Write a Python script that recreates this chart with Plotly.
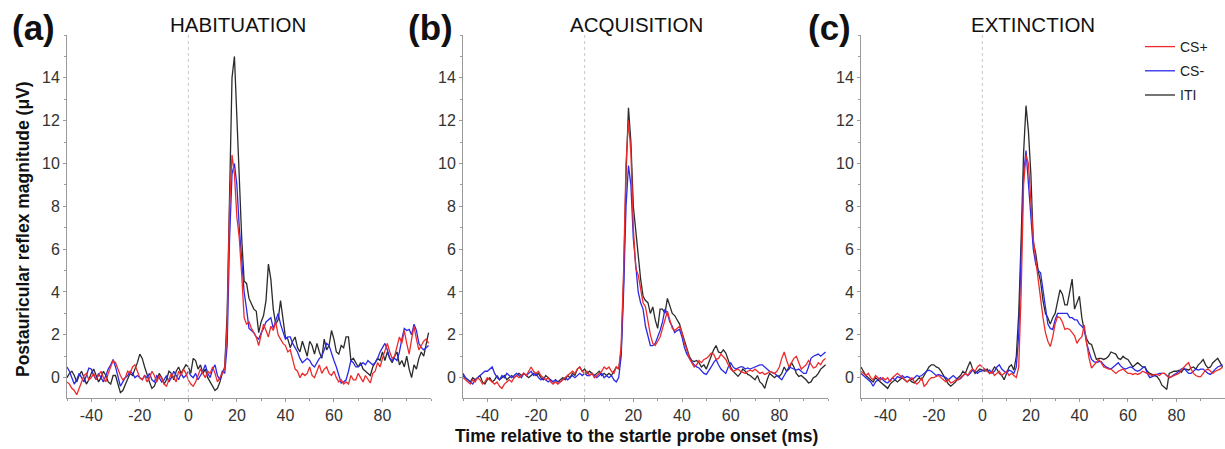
import numpy as np
import plotly.graph_objects as go

# ---------------- data ----------------
time_ms = list(range(-50, 100))  # 1-ms sampling, -50 .. 99 ms

panel_titles = ["HABITUATION", "ACQUISITION", "EXTINCTION"]
panel_letters = ["(a)", "(b)", "(c)"]
series_names = ["CS+", "CS-", "ITI"]

# (a) HABITUATION
hab_csplus = [
    -0.2, -0.3, -0.5, -0.6, -0.8, -0.5, -0.2, 0.1, 0.2, -0.1,
    0.0, 0.2, -0.1, 0.1, 0.3, 0.0, -0.2, 0.2, 0.5, 0.8,
    0.7, 0.4, 0.1, -0.1, 0.0, 0.3, 0.2, 0.5, 0.6, 0.3,
    0.0, -0.1, 0.1, -0.2, 0.0, 0.3, 0.1, -0.2, 0.1, 0.0,
    -0.3, -0.4, -0.1, 0.2, 0.0, -0.2, 0.3, 0.1, 0.4, 0.2,
    -0.1, -0.3, -0.4, -0.2, 0.1, 0.4, 0.2, 0.0, 0.3, 0.2,
    0.5, 0.2, -0.2, 0.0, 0.2, 0.4, 2.5, 8.0, 10.4, 9.5,
    7.5, 6.5, 4.8, 2.8, 2.5, 2.6, 2.3, 2.1, 1.9, 1.5,
    2.0, 2.5, 2.2, 1.9, 2.4, 2.2, 2.6, 2.0, 1.8, 1.6,
    1.5, 1.2, 1.3, 0.8, 0.4, 0.3, 0.0, 0.2, 0.1, 0.2,
    0.5, 0.1, 0.0, 0.3, 0.6, 0.2, 0.4, 0.5, 0.2, 0.1,
    0.3, 0.0, -0.2, -0.1, -0.3, -0.2, -0.3, 0.1, -0.1, -0.1,
    0.2, 0.0, -0.2, 0.1, -0.1, -0.25, 0.2, 0.3, 0.7, 0.5,
    0.9, 1.3, 1.6, 1.2, 0.9, 1.0, 1.5, 1.9, 1.6, 2.2,
    1.6, 1.1, 1.8, 2.4, 1.8, 1.3, 1.5, 1.7, 1.8, 1.6,
]
hab_csminus = [
    0.5, 0.3, 0.0, -0.3, -0.1, 0.2, 0.0, -0.2, 0.1, 0.45,
    0.4, 0.1, -0.1, 0.2, 0.0, -0.2, 0.1, 0.4, 0.6, 0.85,
    0.5, 0.1, -0.4, -0.2, 0.0, 0.1, 0.3, 0.2, 0.0, 0.1,
    0.0, -0.1, 0.1, 0.0, 0.2, -0.1, -0.2, 0.1, 0.0, -0.2,
    -0.1, 0.1, -0.2, 0.0, 0.3, 0.1, -0.1, 0.2, 0.0, 0.1,
    0.3, 0.1, 0.0, 0.2, -0.1, 0.1, 0.3, 0.6, 0.2, 0.0,
    0.4, 0.6, 0.1, -0.1, 0.3, 0.2, 1.5, 6.5, 9.5, 10.0,
    9.0, 7.0, 5.3, 4.0, 3.2, 2.3, 2.2, 2.1, 1.9, 1.8,
    2.1, 2.3, 2.6, 2.7, 2.8, 2.3, 2.6, 3.0, 2.5, 2.2,
    1.8, 1.9, 1.9, 1.6, 1.4, 1.2, 0.9, 0.7, 0.8, 0.9,
    0.8, 0.6, 0.5, 0.7, 0.9, 1.0, 1.3, 1.6, 1.5, 1.1,
    0.8, 0.5, 0.1, -0.25, -0.2, -0.1, 0.3, 0.8, 0.7, 0.5,
    0.5, 0.6, 0.7, 0.6, 0.8, 0.7, 0.6, 0.7, 0.9, 1.2,
    1.4, 1.6, 1.3, 0.9, 0.8, 0.9, 0.8, 1.2, 1.8, 2.3,
    2.2, 2.25, 2.0, 2.5, 2.2, 1.6, 1.4, 1.3, 1.4, 1.5,
]
hab_iti = [
    0.0, 0.2, 0.3, 0.1, -0.2, 0.1, 0.3, 0.0, -0.3, -0.1,
    0.2, 0.4, 0.1, -0.2, 0.0, 0.3, 0.1, -0.2, -0.3, 0.1,
    0.1, -0.3, -0.7, -0.6, -0.3, 0.0, 0.2, 0.1, 0.4, 0.7,
    1.1, 0.9, 0.5, 0.1, -0.2, -0.5, -0.4, -0.1, 0.2, 0.0,
    -0.3, -0.1, 0.3, 0.2, -0.1, 0.3, 0.5, 0.2, 0.4, 0.6,
    0.5, 0.2, 0.9, 0.8, 0.4, 0.6, 0.2, 0.4, 0.0, -0.2,
    -0.4, -0.6, -0.5, -0.2, 0.2, 0.5, 3.0, 9.5, 14.0, 15.0,
    12.0, 9.0, 6.5, 4.5, 4.4, 3.7, 3.4, 3.2, 3.1, 2.1,
    2.6, 2.9, 3.6, 5.3, 4.6, 3.2, 2.5, 2.7, 3.6, 2.8,
    1.9, 1.8, 1.4, 1.7, 1.9, 1.4, 1.2, 1.7, 1.3, 1.0,
    1.7, 1.5, 1.1, 1.6, 1.2, 0.9, 1.8, 1.3, 1.5, 2.2,
    1.8, 1.2, 1.1, 1.5, 1.4, 1.9, 1.9, 0.8, 0.9, 0.7,
    0.5, 0.7, 0.4, 0.3, 0.2, 0.1, 0.5, 0.7, 0.9, 0.8,
    1.2, 0.8, 1.2, 0.9, 0.7, 1.0, 1.2, 0.6, 0.8, 0.5,
    1.0, 0.4, 0.0, 0.6, 0.4, 0.9, 1.2, 1.0, 1.6, 2.1,
]

# (b) ACQUISITION
acq_csplus = [
    0.0, -0.1, -0.2, -0.3, -0.1, -0.2, 0.0, -0.1, -0.3, -0.2,
    0.0, -0.1, -0.2, -0.3, -0.2, -0.4, -0.5, -0.3, -0.2, -0.1,
    -0.2, 0.0, 0.1, 0.0, 0.1, 0.2, 0.1, 0.3, 0.5, 0.3,
    0.2, 0.3, 0.1, 0.0, -0.1, 0.0, -0.2, -0.3, -0.2, -0.3,
    -0.2, -0.1, 0.0, 0.1, 0.2, 0.3, 0.2, 0.4, 0.5, 0.3,
    0.2, 0.3, 0.1, 0.2, 0.0, 0.1, 0.2, 0.3, 0.5, 0.4,
    0.5, 0.3, 0.2, 0.5, 0.4, 1.5, 5.0, 10.0, 12.0, 10.5,
    7.0, 5.1, 4.8, 4.2, 3.5, 3.3, 2.6, 2.0, 1.6, 1.5,
    1.7, 1.9, 2.3, 2.7, 3.1, 2.7, 2.3, 2.2, 2.3, 2.4,
    2.1, 1.6, 1.3, 0.9, 0.7, 0.5, 0.6, 0.8, 0.7, 0.85,
    0.9, 1.0, 1.15, 1.1, 0.85, 0.9, 1.1, 0.95, 0.85, 0.6,
    0.4, 0.3, 0.35, 0.4, 0.3, 0.25, 0.2, 0.3, 0.35, 0.3,
    0.4, 0.3, 0.2, 0.25, 0.15, 0.2, 0.3, 0.25, 0.2, 0.3,
    0.5, 0.9, 1.2, 0.8, 0.5, 0.7, 0.9, 1.0, 0.7, 0.4,
    0.5, 0.6, 0.8, 0.6, 0.45, 0.5, 0.7, 0.6, 0.8, 0.9,
]
acq_csminus = [
    0.2, 0.0, -0.1, -0.2, -0.3, -0.1, 0.0, 0.1, 0.2, 0.3,
    0.3, 0.4, 0.5, 0.2, 0.0, -0.1, 0.1, 0.0, 0.2, 0.1,
    0.0, 0.1, 0.2, 0.1, 0.0, 0.2, 0.1, 0.2, 0.3, 0.1,
    0.2, 0.0, -0.1, 0.0, -0.1, -0.2, -0.1, -0.2, -0.1, -0.2,
    -0.2, -0.1, 0.0, -0.1, 0.0, 0.1, 0.0, 0.1, 0.2, 0.1,
    0.2, 0.1, 0.1, 0.2, 0.1, 0.0, 0.1, 0.2, 0.0, 0.1,
    0.0, 0.1, -0.1, -0.2, 0.0, 1.0, 4.0, 8.0, 9.9, 9.0,
    6.5, 5.2, 4.0, 3.5, 3.2, 2.4, 1.9, 1.5, 1.5, 1.6,
    1.9, 2.2, 2.6, 3.2, 3.0, 2.6, 2.4, 2.1, 2.2, 2.25,
    1.9, 1.4, 1.1, 0.9, 0.75, 0.6, 0.5, 0.45, 0.3, 0.2,
    0.15, 0.3, 0.5, 0.7, 0.85, 0.6, 0.4, 0.3, 0.2, 0.5,
    0.7, 0.5, 0.4, 0.45, 0.5, 0.5, 0.4, 0.45, 0.4, 0.45,
    0.5, 0.55, 0.6, 0.6, 0.5, 0.4, 0.3, 0.25, 0.2, 0.1,
    0.0, -0.1, 0.1, 0.3, 0.5, 0.45, 0.4, 0.35, 0.4, 0.3,
    0.2, 0.2, 0.5, 0.9, 1.0, 1.05, 1.1, 1.0, 1.1, 1.2,
]
acq_iti = [
    0.1, 0.0, -0.1, -0.2, 0.0, -0.1, 0.0, 0.1, -0.2, -0.3,
    -0.1, 0.0, -0.2, -0.1, 0.1, -0.1, 0.0, 0.1, -0.1, 0.0,
    0.1, 0.0, 0.1, 0.2, 0.1, 0.2, 0.1, 0.0, 0.1, 0.2,
    0.1, 0.2, 0.0, -0.1, 0.1, 0.0, -0.1, -0.2, -0.1, -0.2,
    -0.1, 0.0, -0.1, 0.1, 0.0, 0.2, 0.1, 0.4, 0.5, 0.3,
    0.4, 0.2, 0.3, 0.2, 0.1, 0.2, 0.3, 0.1, 0.2, 0.1,
    0.2, 0.1, 0.3, 0.5, 0.4, 1.2, 4.5, 9.5, 12.6, 11.0,
    8.0, 6.8, 5.8, 4.6, 3.8, 3.6, 3.5, 3.0, 3.3, 2.7,
    2.3, 3.2, 3.2, 3.0, 3.7, 3.3, 3.0, 2.9, 2.7, 2.5,
    2.1, 1.7, 1.3, 1.0, 0.8, 0.75, 0.8, 0.7, 0.5, 0.6,
    0.4, 0.7, 1.0, 1.3, 1.5, 1.2, 1.15, 1.3, 1.15, 0.8,
    0.5, 0.3, 0.2, 0.06, 0.2, 0.4, 0.3, 0.15, 0.1, 0.0,
    -0.1, 0.1, -0.2, -0.3, -0.5, -0.1, 0.2, 0.1, 0.0, 0.1,
    0.06, 0.2, 0.5, 0.3, 0.4, 0.7, 0.5, 0.2, 0.06, 0.1,
    0.0, -0.1, -0.25, -0.2, 0.0, 0.06, 0.2, 0.4, 0.5, 0.6,
]

# (c) EXTINCTION
ext_csplus = [
    0.3, 0.2, 0.1, 0.2, 0.0, -0.1, 0.1, 0.0, -0.1, 0.0,
    -0.1, 0.0, -0.2, 0.0, 0.1, 0.2, 0.1, 0.0, -0.1, -0.2,
    -0.1, 0.0, -0.2, -0.3, -0.2, 0.0, -0.4, -0.3, -0.1, 0.0,
    0.0, 0.05, 0.1, 0.0, -0.1, -0.2, -0.1, -0.25, -0.2, -0.1,
    -0.1, 0.0, 0.1, 0.2, 0.1, 0.3, 0.4, 0.3, 0.5, 0.6,
    0.5, 0.4, 0.3, 0.2, 0.3, 0.1, 0.2, 0.3, 0.1, 0.2,
    0.3, 0.1, 0.2, 0.1, 0.0, 0.5, 4.0, 9.0, 10.4, 10.0,
    8.0, 6.5, 5.5, 4.5, 3.6, 2.8, 2.1, 1.7, 1.45, 1.9,
    2.5, 2.85, 2.8, 2.6, 2.25, 2.3, 2.25, 2.1, 1.95, 1.6,
    1.8, 1.9, 2.45, 1.6, 0.9, 0.45, 0.6, 0.7, 0.85, 0.7,
    0.5, 0.45, 0.4, 0.4, 0.3, 0.2, 0.3, 0.35, 0.4, 0.3,
    0.2, 0.2, 0.15, 0.2, 0.15, 0.2, 0.3, 0.25, 0.2, 0.15,
    0.1, 0.15, 0.15, 0.1, 0.2, 0.2, 0.1, 0.0, 0.05, 0.1,
    0.15, 0.2, 0.35, 0.5, 0.6, 0.7, 0.4, 0.2, 0.1, 0.05,
    0.05, 0.2, 0.35, 0.4, 0.3, 0.2, 0.3, 0.35, 0.4, 0.5,
]
ext_csminus = [
    0.2, 0.1, 0.0, -0.1, -0.2, -0.4, -0.2, -0.1, 0.0, -0.1,
    -0.2, -0.25, -0.1, 0.0, -0.1, 0.05, 0.0, 0.1, 0.0, 0.05,
    0.0, -0.1, 0.0, 0.1, 0.05, 0.1, 0.2, 0.3, 0.35, 0.3,
    0.2, 0.1, 0.15, 0.1, 0.05, 0.0, -0.1, 0.0, 0.1, 0.0,
    -0.1, -0.05, 0.1, 0.2, 0.1, 0.2, 0.35, 0.3, 0.2, 0.3,
    0.3, 0.4, 0.3, 0.35, 0.2, 0.3, 0.5, 0.6, 0.4, 0.3,
    0.2, 0.35, 0.3, 0.2, 0.5, 2.0, 5.5, 9.5, 10.6, 9.0,
    7.8, 6.0, 5.3, 5.0, 4.9, 4.0, 3.3, 2.5, 2.3, 2.25,
    2.7, 3.0, 3.0, 3.0, 3.0, 3.0, 2.8, 2.8, 2.7, 2.7,
    2.5, 2.4, 2.25, 1.6, 1.2, 0.85, 0.75, 0.7, 0.75, 0.75,
    0.6, 0.5, 0.45, 0.4, 0.5, 0.6, 0.7, 0.55, 0.45, 0.4,
    0.45, 0.5, 0.45, 0.35, 0.3, 0.35, 0.45, 0.5, 0.2, 0.0,
    0.05, 0.1, 0.15, 0.2, 0.2, 0.2, 0.1, 0.0, 0.05, 0.15,
    0.2, 0.3, 0.4, 0.45, 0.3, 0.2, 0.2, 0.3, 0.4, 0.35,
    0.4, 0.4, 0.3, 0.2, 0.15, 0.3, 0.4, 0.5, 0.55, 0.6,
]
ext_iti = [
    0.5, 0.3, 0.1, 0.0, -0.1, -0.2, 0.0, -0.1, -0.2, -0.3,
    -0.4, -0.5, -0.3, -0.2, -0.1, -0.2, -0.1, 0.0, -0.1, -0.2,
    -0.1, -0.2, -0.25, -0.1, 0.0, -0.1, 0.1, 0.3, 0.5, 0.6,
    0.6, 0.5, 0.45, 0.3, 0.1, -0.1, -0.3, -0.4, -0.3, -0.2,
    0.0, 0.1, 0.3, 0.2, 0.5, 0.75, 0.4, 0.2, 0.3, 0.4,
    0.35, 0.3, 0.4, 0.2, 0.3, 0.5, 0.4, 0.2, 0.1, -0.1,
    0.2, 0.5, 0.6, 0.35, 1.0, 3.0, 6.5, 10.5, 12.7, 11.5,
    9.5, 6.3, 5.8, 5.0, 4.5, 3.6, 3.0, 2.8, 2.5, 2.8,
    3.0, 3.6, 4.1, 3.9, 3.4, 3.4, 4.0, 4.6, 3.2, 3.5,
    3.8, 2.8, 2.2, 1.8, 1.6, 1.55, 1.2, 0.85, 0.9, 0.9,
    0.85, 0.9, 1.0, 1.2, 1.15, 1.1, 0.9, 0.85, 1.0, 0.9,
    0.85, 0.7, 0.5, 0.6, 0.7, 0.6, 0.5, 0.5, 0.3, 0.2,
    0.15, 0.1, 0.05, -0.1, -0.35, -0.45, -0.55, 0.2, 0.25, 0.3,
    0.3, 0.35, 0.25, 0.4, 0.4, 0.35, 0.45, 0.5, 0.4, 0.6,
    0.7, 0.85, 0.6, 0.45, 0.5, 0.7, 0.8, 0.9, 0.7, 0.5,
]

x_tick_vals = [-40, -20, 0, 20, 40, 60, 80]
x_tick_text = ["-40", "-20", "0", "20", "40", "60", "80"]
y_tick_vals = [0, 2, 4, 6, 8, 10, 12, 14]
y_tick_text = ["0", "2", "4", "6", "8", "10", "12", "14"]
x_range = [-50, 100]
y_range = [-0.95, 16]

panels = [
    {"CS+": hab_csplus, "CS-": hab_csminus, "ITI": hab_iti},
    {"CS+": acq_csplus, "CS-": acq_csminus, "ITI": acq_iti},
    {"CS+": ext_csplus, "CS-": ext_csminus, "ITI": ext_iti},
]

# ---------------- styling ----------------
colors = {"CS+": "#ee2b2b", "CS-": "#2a2ae8", "ITI": "#2b2b2b"}
ranks = {"CS+": 1, "CS-": 2, "ITI": 3}
draw_order = ["ITI", "CS-", "CS+"]
FONT = "Liberation Sans, Arial, Helvetica, sans-serif"

W, H = 1225, 449
ML, MR, MT, MB = 67, 0, 35, 51
plot_w = W - ML - MR
plot_h = H - MT - MB
px_domains = [(67, 431), (463, 828), (861, 1225)]
domains = [((a - ML) / plot_w, (b - ML) / plot_w) for a, b in px_domains]


def px_to_paper_x(px):
    return (px - ML) / plot_w


def py_to_paper_y(py):
    return (H - MB - py) / plot_h


fig = go.Figure()

for i, data in enumerate(panels):
    xa = "x" if i == 0 else f"x{i+1}"
    ya = "y" if i == 0 else f"y{i+1}"
    for name in draw_order:
        fig.add_trace(go.Scatter(
            x=time_ms, y=data[name], mode="lines", name=name,
            line=dict(color=colors[name], width=1.3),
            xaxis=xa, yaxis=ya, legendgroup=name,
            legendrank=ranks[name], showlegend=(i == 0),
        ))

axis_common = dict(
    showgrid=False, zeroline=False, showline=True, linecolor="#9a9a9a",
    linewidth=1, ticks="outside", ticklen=3, tickcolor="#9a9a9a",
    tickfont=dict(family=FONT, size=16, color="#333333"),
)

layout = dict(
    width=W, height=H,
    margin=dict(l=ML, r=MR, t=MT, b=MB),
    paper_bgcolor="white", plot_bgcolor="white",
    font=dict(family=FONT, color="#222222"),
    legend=dict(
        x=px_to_paper_x(1140), y=py_to_paper_y(31), xanchor="left", yanchor="top",
        font=dict(family=FONT, size=14, color="#222222"),
        bgcolor="rgba(0,0,0,0)", tracegroupgap=3, itemwidth=30,
    ),
)

for i in range(3):
    xk = "xaxis" if i == 0 else f"xaxis{i+1}"
    yk = "yaxis" if i == 0 else f"yaxis{i+1}"
    ax_anchor = "y" if i == 0 else f"y{i+1}"
    ay_anchor = "x" if i == 0 else f"x{i+1}"
    layout[xk] = dict(
        axis_common, domain=list(domains[i]), range=x_range, anchor=ax_anchor,
        tickmode="array", tickvals=x_tick_vals, ticktext=x_tick_text,
        minor=dict(dtick=10, ticklen=2, tickcolor="#9a9a9a", ticks="outside"),
    )
    layout[yk] = dict(
        axis_common, domain=[0, 1], range=y_range, anchor=ay_anchor,
        tickmode="array", tickvals=y_tick_vals, ticktext=y_tick_text,
        minor=dict(dtick=1, ticklen=2, tickcolor="#9a9a9a", ticks="outside"),
    )

fig.update_layout(**layout)

# dotted line at probe onset
for i in range(3):
    xa = "x" if i == 0 else f"x{i+1}"
    ya = "y" if i == 0 else f"y{i+1}"
    fig.add_shape(type="line", xref=xa, yref=f"{ya} domain", x0=0, x1=0, y0=0, y1=1,
                  line=dict(color="#c8c8c8", width=1, dash="dot"))

annotations = []
letter_px = [33, 430, 829]
title_px = [238, 636, 1033]
for i in range(3):
    annotations.append(dict(
        text=f"<b>{panel_letters[i]}</b>", xref="paper", yref="paper",
        x=px_to_paper_x(letter_px[i]), y=py_to_paper_y(28),
        xanchor="center", yanchor="middle", showarrow=False,
        font=dict(family=FONT, size=35, color="#111111"),
    ))
    annotations.append(dict(
        text=panel_titles[i], xref="paper", yref="paper",
        x=px_to_paper_x(title_px[i]), y=py_to_paper_y(25),
        xanchor="center", yanchor="middle", showarrow=False,
        font=dict(family=FONT, size=20.5, color="#111111"),
    ))

annotations.append(dict(
    text="<b>Postauricular reflex magnitude (μV)</b>", xref="paper", yref="paper",
    x=px_to_paper_x(23), y=py_to_paper_y(229), textangle=-90,
    xanchor="center", yanchor="middle", showarrow=False,
    font=dict(family=FONT, size=17.5, color="#111111"),
))
annotations.append(dict(
    text="<b>Time relative to the startle probe onset (ms)</b>", xref="paper", yref="paper",
    x=px_to_paper_x(636), y=py_to_paper_y(436),
    xanchor="center", yanchor="middle", showarrow=False,
    font=dict(family=FONT, size=17.5, color="#111111"),
))
fig.update_layout(annotations=annotations)

fig.write_html(
    "out.html",
    config={"displayModeBar": False},
    post_script="document.body.style.margin='0';document.body.style.padding='0';"
                "document.documentElement.style.overflow='hidden';",
)
